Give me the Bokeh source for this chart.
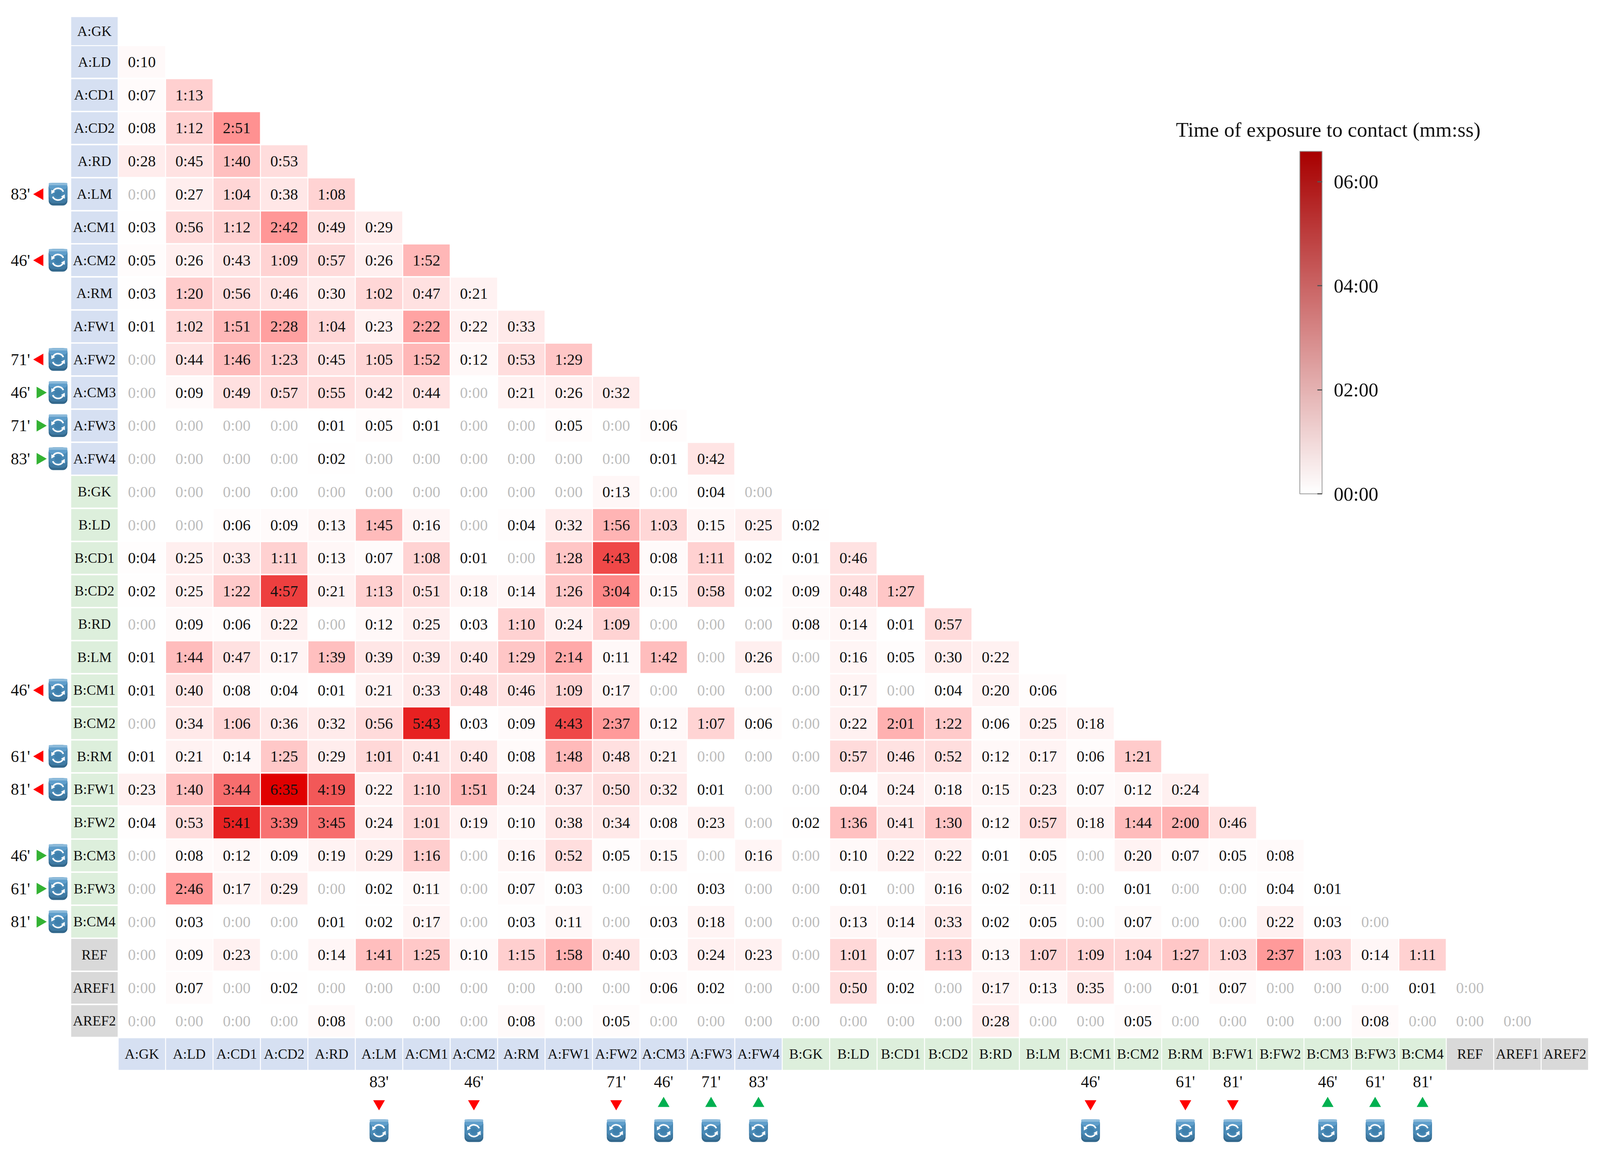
# -*- coding: utf-8 -*-
# Time of exposure to contact between players, lower triangle heatmap
import numpy as np

from bokeh.embed import file_html
from bokeh.models import ColorBar, ColumnDataSource, FixedTicker, Label, LinearColorMapper, Range1d
from bokeh.plotting import figure
from bokeh.resources import INLINE

# names on both axes
players = ['A:GK', 'A:LD', 'A:CD1', 'A:CD2', 'A:RD', 'A:LM', 'A:CM1', 'A:CM2', 'A:RM', 'A:FW1', 'A:FW2',
           'A:CM3', 'A:FW3', 'A:FW4',
           'B:GK', 'B:LD', 'B:CD1', 'B:CD2', 'B:RD', 'B:LM', 'B:CM1', 'B:CM2', 'B:RM', 'B:FW1', 'B:FW2',
           'B:CM3', 'B:FW3', 'B:CM4',
           'REF', 'AREF1', 'AREF2']

# one list per row, read left to right
a_gk = []
a_ld = ['0:10']
a_cd1 = ['0:07', '1:13']
a_cd2 = ['0:08', '1:12', '2:51']
a_rd = ['0:28', '0:45', '1:40', '0:53']
a_lm = ['0:00', '0:27', '1:04', '0:38', '1:08']
a_cm1 = ['0:03', '0:56', '1:12', '2:42', '0:49', '0:29']
a_cm2 = ['0:05', '0:26', '0:43', '1:09', '0:57', '0:26', '1:52']
a_rm = ['0:03', '1:20', '0:56', '0:46', '0:30', '1:02', '0:47', '0:21']
a_fw1 = ['0:01', '1:02', '1:51', '2:28', '1:04', '0:23', '2:22', '0:22', '0:33']
a_fw2 = ['0:00', '0:44', '1:46', '1:23', '0:45', '1:05', '1:52', '0:12', '0:53', '1:29']
a_cm3 = ['0:00', '0:09', '0:49', '0:57', '0:55', '0:42', '0:44', '0:00', '0:21', '0:26', '0:32']
a_fw3 = ['0:00', '0:00', '0:00', '0:00', '0:01', '0:05', '0:01', '0:00', '0:00', '0:05', '0:00', '0:06']
a_fw4 = ['0:00', '0:00', '0:00', '0:00', '0:02', '0:00', '0:00', '0:00', '0:00', '0:00', '0:00', '0:01', '0:42']
b_gk = ['0:00', '0:00', '0:00', '0:00', '0:00', '0:00', '0:00', '0:00', '0:00', '0:00', '0:13', '0:00', '0:04',
        '0:00']
b_ld = ['0:00', '0:00', '0:06', '0:09', '0:13', '1:45', '0:16', '0:00', '0:04', '0:32', '1:56', '1:03', '0:15',
        '0:25', '0:02']
b_cd1 = ['0:04', '0:25', '0:33', '1:11', '0:13', '0:07', '1:08', '0:01', '0:00', '1:28', '4:43', '0:08', '1:11',
         '0:02', '0:01', '0:46']
b_cd2 = ['0:02', '0:25', '1:22', '4:57', '0:21', '1:13', '0:51', '0:18', '0:14', '1:26', '3:04', '0:15', '0:58',
         '0:02', '0:09', '0:48', '1:27']
b_rd = ['0:00', '0:09', '0:06', '0:22', '0:00', '0:12', '0:25', '0:03', '1:10', '0:24', '1:09', '0:00', '0:00',
        '0:00', '0:08', '0:14', '0:01', '0:57']
b_lm = ['0:01', '1:44', '0:47', '0:17', '1:39', '0:39', '0:39', '0:40', '1:29', '2:14', '0:11', '1:42', '0:00',
        '0:26', '0:00', '0:16', '0:05', '0:30', '0:22']
b_cm1 = ['0:01', '0:40', '0:08', '0:04', '0:01', '0:21', '0:33', '0:48', '0:46', '1:09', '0:17', '0:00', '0:00',
         '0:00', '0:00', '0:17', '0:00', '0:04', '0:20', '0:06']
b_cm2 = ['0:00', '0:34', '1:06', '0:36', '0:32', '0:56', '5:43', '0:03', '0:09', '4:43', '2:37', '0:12', '1:07',
         '0:06', '0:00', '0:22', '2:01', '1:22', '0:06', '0:25', '0:18']
b_rm = ['0:01', '0:21', '0:14', '1:25', '0:29', '1:01', '0:41', '0:40', '0:08', '1:48', '0:48', '0:21', '0:00',
        '0:00', '0:00', '0:57', '0:46', '0:52', '0:12', '0:17', '0:06', '1:21']
b_fw1 = ['0:23', '1:40', '3:44', '6:35', '4:19', '0:22', '1:10', '1:51', '0:24', '0:37', '0:50', '0:32', '0:01',
         '0:00', '0:00', '0:04', '0:24', '0:18', '0:15', '0:23', '0:07', '0:12', '0:24']
b_fw2 = ['0:04', '0:53', '5:41', '3:39', '3:45', '0:24', '1:01', '0:19', '0:10', '0:38', '0:34', '0:08', '0:23',
         '0:00', '0:02', '1:36', '0:41', '1:30', '0:12', '0:57', '0:18', '1:44', '2:00', '0:46']
b_cm3 = ['0:00', '0:08', '0:12', '0:09', '0:19', '0:29', '1:16', '0:00', '0:16', '0:52', '0:05', '0:15', '0:00',
         '0:16', '0:00', '0:10', '0:22', '0:22', '0:01', '0:05', '0:00', '0:20', '0:07', '0:05', '0:08']
b_fw3 = ['0:00', '2:46', '0:17', '0:29', '0:00', '0:02', '0:11', '0:00', '0:07', '0:03', '0:00', '0:00', '0:03',
         '0:00', '0:00', '0:01', '0:00', '0:16', '0:02', '0:11', '0:00', '0:01', '0:00', '0:00', '0:04', '0:01']
b_cm4 = ['0:00', '0:03', '0:00', '0:00', '0:01', '0:02', '0:17', '0:00', '0:03', '0:11', '0:00', '0:03', '0:18',
         '0:00', '0:00', '0:13', '0:14', '0:33', '0:02', '0:05', '0:00', '0:07', '0:00', '0:00', '0:22', '0:03',
         '0:00']
ref = ['0:00', '0:09', '0:23', '0:00', '0:14', '1:41', '1:25', '0:10', '1:15', '1:58', '0:40', '0:03', '0:24',
       '0:23', '0:00', '1:01', '0:07', '1:13', '0:13', '1:07', '1:09', '1:04', '1:27', '1:03', '2:37', '1:03',
       '0:14', '1:11']
aref1 = ['0:00', '0:07', '0:00', '0:02', '0:00', '0:00', '0:00', '0:00', '0:00', '0:00', '0:00', '0:06', '0:02',
         '0:00', '0:00', '0:50', '0:02', '0:00', '0:17', '0:13', '0:35', '0:00', '0:01', '0:07', '0:00', '0:00',
         '0:00', '0:01', '0:00']
aref2 = ['0:00', '0:00', '0:00', '0:00', '0:08', '0:00', '0:00', '0:00', '0:08', '0:00', '0:05', '0:00', '0:00',
         '0:00', '0:00', '0:00', '0:00', '0:00', '0:28', '0:00', '0:00', '0:05', '0:00', '0:00', '0:00', '0:00',
         '0:08', '0:00', '0:00', '0:00']

rows = [a_gk, a_ld, a_cd1, a_cd2, a_rd, a_lm, a_cm1, a_cm2, a_rm, a_fw1, a_fw2, a_cm3, a_fw3, a_fw4,
        b_gk, b_ld, b_cd1, b_cd2, b_rd, b_lm, b_cm1, b_cm2, b_rm, b_fw1, b_fw2, b_cm3, b_fw3, b_cm4,
        ref, aref1, aref2]

# substitutions
sub_players = ['A:LM', 'A:CM2', 'A:FW2', 'A:CM3', 'A:FW3', 'A:FW4', 'B:CM1', 'B:RM', 'B:FW1', 'B:CM3', 'B:FW3',
               'B:CM4']
sub_minutes = ["83'", "46'", "71'", "46'", "71'", "83'", "46'", "61'", "81'", "46'", "61'", "81'"]
sub_off = [True, True, True, False, False, False, True, True, True, False, False, False]

# colour bar
bar_ticks = [0, 120, 240, 360]
bar_labels = ['00:00', '02:00', '04:00', '06:00']
max_seconds = 395

FONT = 'Liberation Serif'
# the browser only gives 4096 px of width, so the reference's 5613 px are squeezed in x
W, H = 4096, 2978
SX = W / 5613
COL_PX, ROW_PX = 166.4 * SX, 84.68
X0_PX, Y0_PX = 497.0 * SX, 73.32


def gradient(stops):
    # stops: (position 0-1, r, g, b)
    pos = np.linspace(0, 1, 256)
    s = np.array(stops, dtype=float)
    chans = [np.interp(pos, s[:, 0], s[:, i]) for i in (1, 2, 3)]
    return ['#%02x%02x%02x' % (int(r), int(g), int(b)) for r, g, b in zip(*chans)]


cell_mapper = LinearColorMapper(palette=gradient([(0, 255, 255, 255), (171 / 395, 255, 145, 145), (1, 224, 0, 0)]),
                                low=0, high=max_seconds)
bar_mapper = LinearColorMapper(palette=gradient([(0, 255, 255, 255), (1, 168, 0, 0)]), low=0, high=max_seconds)

p = figure(width=W, height=H, output_backend='svg', toolbar_location=None, min_border=0,
           x_range=Range1d(-X0_PX / COL_PX, (W - X0_PX) / COL_PX),
           y_range=Range1d((H - Y0_PX) / ROW_PX, -Y0_PX / ROW_PX))
p.axis.visible = False
p.grid.visible = False
p.outline_line_color = None

# 计算单元格
cx, cy, seconds, text, text_color = [], [], [], [], []
for j, row in enumerate(rows):
    for i, t in enumerate(row):
        m, s = t.split(':')
        sec = int(m) * 60 + int(s)
        cx.append(i)
        cy.append(j)
        seconds.append(sec)
        text.append(t)
        text_color.append('#111111' if sec > 0 else '#bdbdbd')
cells = ColumnDataSource(dict(x=cx, y=cy, seconds=seconds, text=text, color=text_color))
p.rect('x', 'y', width=0.98, height=81 / ROW_PX, source=cells, line_color=None,
       fill_color={'field': 'seconds', 'transform': cell_mapper})
p.text('x', 'y', text='text', source=cells, text_color='color', text_font=FONT, text_font_size='40px',
       text_align='center', text_baseline='middle')


def tag_color(name):
    if name.startswith('A:'):
        return '#d6e0f2'
    if name.startswith('B:'):
        return '#ddefdc'
    return '#d9d9d9'


# row tags, first one is a bit shorter and sits lower
n = len(players)
row_tag_y = [0.07] + list(range(1, n))
row_tag_h = [72 / ROW_PX] + [81 / ROW_PX] * (n - 1)
row_tags = ColumnDataSource(dict(x=[-1] * n, y=row_tag_y, h=row_tag_h, text=players,
                                 color=[tag_color(c) for c in players]))
col_tags = ColumnDataSource(dict(x=list(range(n)), y=[n] * n, text=players,
                                 color=[tag_color(c) for c in players]))
p.rect('x', 'y', width=0.98, height='h', source=row_tags, fill_color='color', line_color=None)
p.rect('x', 'y', width=0.98, height=81 / ROW_PX, source=col_tags, fill_color='color', line_color=None)
for src in (row_tags, col_tags):
    p.text('x', 'y', text='text', source=src, text_color='#111111', text_font=FONT, text_font_size='36px',
           text_align='center', text_baseline='middle')

# 换人标记
idx = [players.index(c) for c in sub_players]
arrow_left = dict(x=[-2.148] * len(idx), y=idx,
                  angle=[np.pi / 2 if o else -np.pi / 2 for o in sub_off],
                  color=['#ff0000' if o else '#33b233' for o in sub_off])
arrow_bottom = dict(x=idx, y=[32.5] * len(idx),
                    angle=[np.pi if o else 0 for o in sub_off],
                    color=['#ff0000' if o else '#00b050' for o in sub_off])
for a in (arrow_left, arrow_bottom):
    p.scatter('x', 'y', source=ColumnDataSource(a), marker='triangle', size=30, angle='angle',
              fill_color='color', line_color=None)
p.text(x=[-2.56] * len(idx), y=idx, text=sub_minutes, text_color='#111111', text_font=FONT,
       text_font_size='42px', text_align='center', text_baseline='middle')
p.text(x=idx, y=[31.84] * len(idx), text=sub_minutes, text_color='#111111', text_font=FONT,
       text_font_size='42px', text_align='center', text_baseline='middle')

# 图标
icon_x = np.array([-1.767] * len(idx) + idx, dtype=float)
icon_y = np.array(idx + [33.32] * len(idx), dtype=float)
for h, col in [(58, '#33688c'), (52, '#3f7aa3'), (42, '#4a8ab6'), (16, '#5f9ecb'), (6, '#8dbbdb')]:
    p.rect(icon_x, icon_y - (58 - h) / 2 / ROW_PX, width=48, height=h, width_units='screen', height_units='screen',
           fill_color=col, line_color=None, border_radius=min(12, h // 2))
p.scatter(icon_x, icon_y, marker='circle', size=18, fill_color='#3f80ad', line_color=None)
p.arc(icon_x, icon_y, radius=15, radius_units='screen', start_angle=np.radians(25), end_angle=np.radians(145),
      line_color='white', line_width=4)
p.arc(icon_x, icon_y, radius=15, radius_units='screen', start_angle=np.radians(205), end_angle=np.radians(325),
      line_color='white', line_width=4)
p.scatter(icon_x - 14 / COL_PX, icon_y - 6 / ROW_PX, marker='triangle', size=11, angle=np.radians(150),
          fill_color='white', line_color=None)
p.scatter(icon_x + 14 / COL_PX, icon_y + 6 / ROW_PX, marker='triangle', size=11, angle=np.radians(-30),
          fill_color='white', line_color=None)

# 图例
bar = ColorBar(color_mapper=bar_mapper, ticker=FixedTicker(ticks=bar_ticks),
               major_label_overrides=dict(zip(bar_ticks, bar_labels)),
               major_label_text_font=FONT, major_label_text_font_size='50px', major_label_text_color='#111111',
               major_tick_in=12, major_tick_line_color='#555555', major_tick_line_width=3,
               minor_tick_line_color=None, bar_line_color='#9a9a9a', bar_line_width=2,
               label_standoff=30, width=57, height=877, padding=0, margin=0,
               background_fill_alpha=0, border_line_color=None,
               location=(int(4560 * SX), H - 1264))
p.add_layout(bar, 'center')
p.add_layout(Label(x=int(4125 * SX), y=H - 331, x_units='screen', y_units='screen',
                   text='Time of exposure to contact (mm:ss)', text_font=FONT, text_font_size='53px',
                   text_color='#111111', text_baseline='middle'))

open('out.html', 'w').write(file_html(p, INLINE))
